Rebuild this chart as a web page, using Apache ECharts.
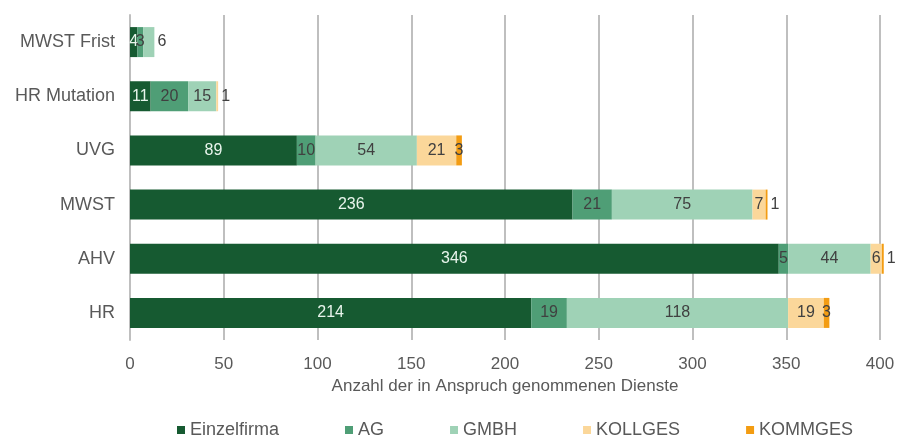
<!DOCTYPE html>
<html>
<head>
<meta charset="utf-8">
<script src="https://cdn.jsdelivr.net/npm/echarts@6/dist/echarts.min.js"></script>
<style>
  html, body { margin: 0; padding: 0; background: #fff; }
  #chart { width: 898px; height: 437px; }
</style>
</head>
<body>
<div id="chart"></div>
<script>
// Kategorien von oben nach unten
const categories = ['MWST Frist', 'HR Mutation', 'UVG', 'MWST', 'AHV', 'HR'];
const einzelfirma = [4, 11, 89, 236, 346, 214];
const ag = [3, 20, 10, 21, 5, 19];
const gmbh = [6, 15, 54, 75, 44, 118];
const kollges = [0, 1, 21, 7, 6, 19];
const kommges = [0, 0, 3, 1, 1, 3];

const chart = echarts.init(document.getElementById('chart'));

const font = 'Liberation Sans, Arial, sans-serif';

// kleine Segmente: Beschriftung rechts neben dem Balken
function makeData(values, outside) {
  return values.map((v, i) => {
    if (outside && outside.indexOf(i) >= 0) {
      return { value: v, label: { position: 'right', distance: 3 } };
    }
    return v;
  });
}

function makeSeries(name, values, color, labelColor, outside) {
  return {
    name: name,
    type: 'bar',
    stack: 'total',
    barWidth: 30,
    clip: false,
    data: makeData(values, outside),
    itemStyle: { color: color },
    label: {
      show: true,
      position: 'inside',
      color: labelColor,
      fontSize: 16,
      fontFamily: font,
      formatter: p => (p.value ? p.value : '')
    }
  };
}

const option = {
  animation: false,
  grid: { left: 130, right: 18, top: 15, bottom: 97 },
  xAxis: {
    type: 'value',
    min: 0,
    max: 400,
    interval: 50,
    name: 'Anzahl der in Anspruch genommenen Dienste',
    nameLocation: 'middle',
    nameGap: 37,
    nameTextStyle: { color: '#595959', fontSize: 17, fontFamily: font },
    axisLine: { show: false },
    axisTick: { show: false },
    axisLabel: { color: '#595959', fontSize: 17, fontFamily: font, margin: 16 },
    splitLine: { lineStyle: { color: '#bfbfbf', width: 2 } }
  },
  yAxis: {
    type: 'category',
    inverse: true,
    data: categories,
    axisLine: { lineStyle: { color: '#bfbfbf', width: 2 } },
    axisTick: { show: false },
    axisLabel: { color: '#595959', fontSize: 18, fontFamily: font, margin: 15 }
  },
  legend: {
    top: 416,
    left: 172,
    itemWidth: 8,
    itemHeight: 8,
    itemGap: 66,
    icon: 'rect',
    textStyle: { color: '#595959', fontSize: 18, fontFamily: font },
    data: ['Einzelfirma', 'AG', 'GMBH', 'KOLLGES', 'KOMMGES']
  },
  series: [
    makeSeries('Einzelfirma', einzelfirma, '#165a31', '#e8f5ec'),
    makeSeries('AG', ag, '#4f9e76', '#404040'),
    makeSeries('GMBH', gmbh, '#9fd2b6', '#404040', [0]),
    makeSeries('KOLLGES', kollges, '#fbd79a', '#404040', [1]),
    makeSeries('KOMMGES', kommges, '#f39c12', '#404040', [3, 4])
  ]
};

chart.setOption(option);
</script>
</body>
</html>
